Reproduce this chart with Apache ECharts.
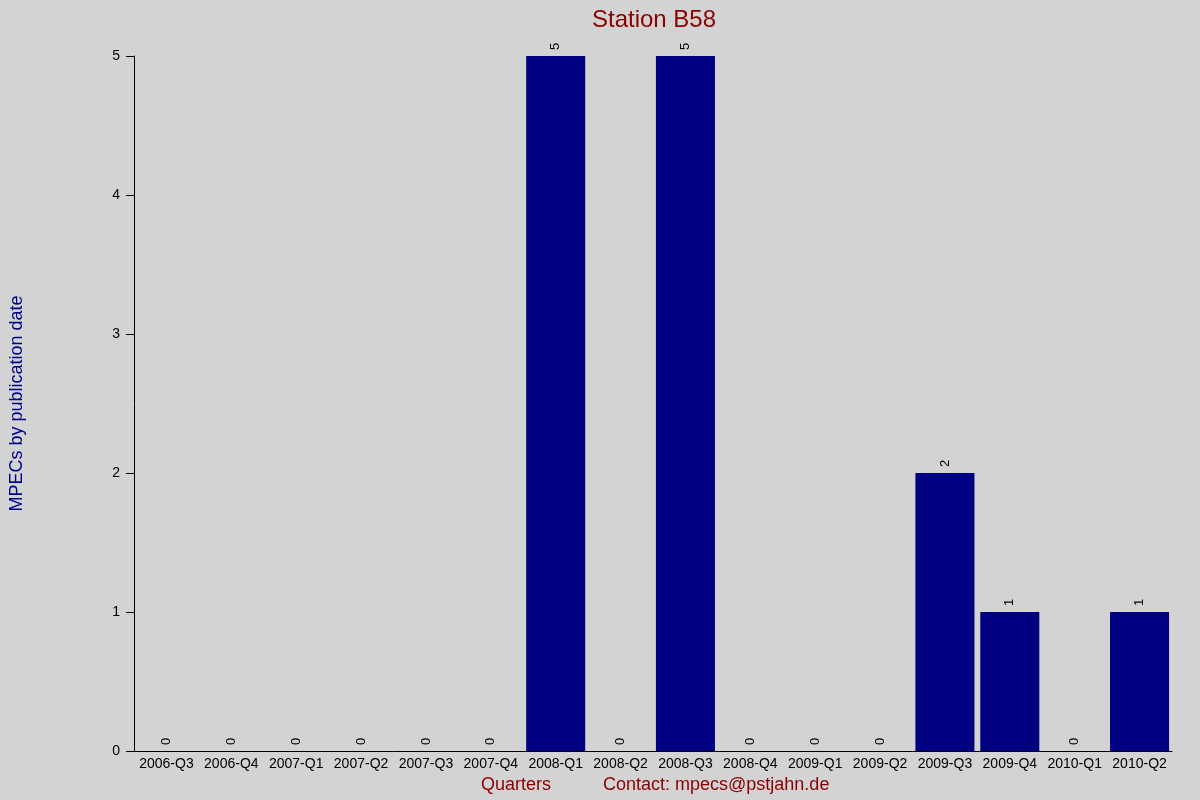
<!DOCTYPE html>
<html><head><meta charset="utf-8">
<script src="https://cdn.jsdelivr.net/npm/echarts@6/dist/echarts.min.js"></script>
<style>html,body{margin:0;background:#d3d3d3}#c{width:1200px;height:800px}</style>
</head><body><div id="c"></div>
<script>
const categories = ['2006-Q3','2006-Q4','2007-Q1','2007-Q2','2007-Q3','2007-Q4','2008-Q1','2008-Q2','2008-Q3','2008-Q4','2009-Q1','2009-Q2','2009-Q3','2009-Q4','2010-Q1','2010-Q2'];
const values = [0,0,0,0,0,0,5,0,5,0,0,0,2,1,0,1];
const yTicks = [0,1,2,3,4,5];
const chart = echarts.init(document.getElementById('c'));
const F = 'Liberation Sans, Arial, sans-serif';
chart.setOption({
  backgroundColor:'#d3d3d3',
  animation:false,
  title:{text:'Station B58',left:649,textAlign:'center',top:3,textStyle:{color:'#8b0000',fontSize:24,fontWeight:'normal',fontFamily:F}},
  graphic:[
    {type:'text',left:481,top:776,style:{text:'Quarters',fill:'#8b0000',font:'18px '+F}},
    {type:'text',left:603,top:776,style:{text:'Contact: mpecs@pstjahn.de',fill:'#8b0000',font:'18px '+F}}
  ],
  grid:{left:126,right:28,top:56,bottom:49},
  xAxis:{type:'category',data:categories,
    axisLine:{lineStyle:{color:'#000'}},axisTick:{show:false},
    axisLabel:{color:'#000',fontSize:14,fontFamily:F,margin:6,interval:0}},
  yAxis:{type:'value',min:0,max:5,interval:1,
    name:'MPECs by publication date',nameLocation:'middle',nameGap:108,
    nameTextStyle:{color:'#00008b',fontSize:18,fontFamily:F},
    axisLine:{show:true,lineStyle:{color:'#000'}},
    axisTick:{show:true,inside:false,length:8,lineStyle:{color:'#000'}},
    axisLabel:{color:'#000',fontSize:14,fontFamily:F,margin:14,formatter:v=>yTicks.includes(v)?String(v):''},
    splitLine:{show:false}},
  series:[{type:'bar',data:values,barCategoryGap:'9%',
    itemStyle:{color:'#000080'},
    label:{show:true,position:'top',rotate:90,distance:6,align:'left',verticalAlign:'middle',color:'#000',fontSize:13,fontFamily:F}}]
});
</script></body></html>
